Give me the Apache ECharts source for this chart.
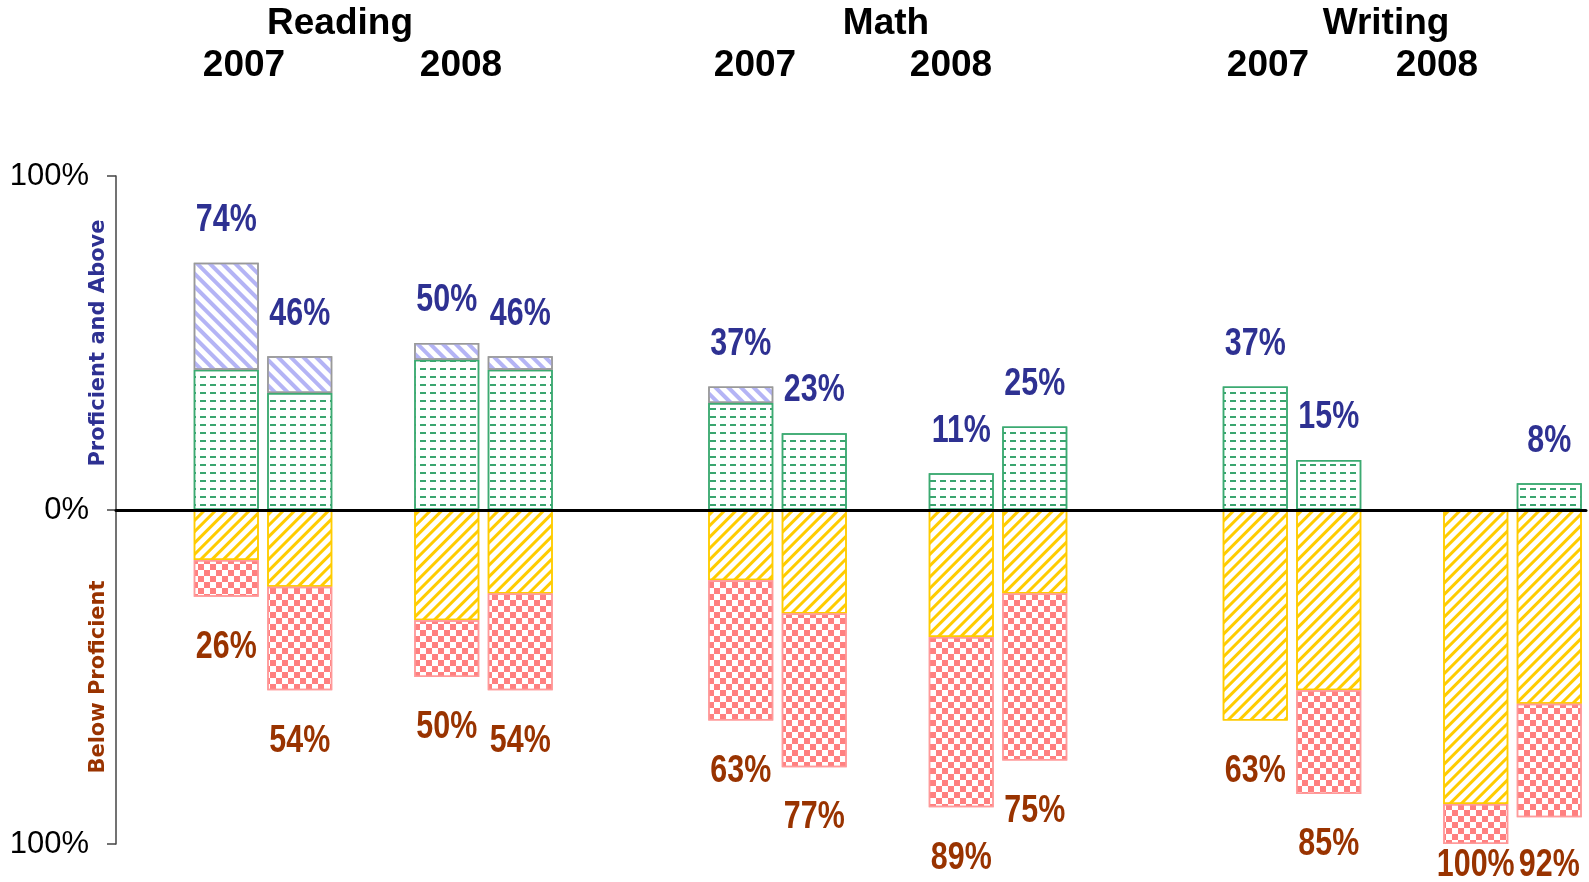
<!DOCTYPE html>
<html>
<head>
<meta charset="utf-8">
<script src="https://cdn.jsdelivr.net/npm/echarts@6/dist/echarts.min.js"></script>
<style>
  html, body { margin: 0; padding: 0; background: #fff; }
  #chart { width: 1589px; height: 882px; }
</style>
</head>
<body>
<div id="chart"></div>
<script>
// Subjects and test years shown across the top
const subjects = ['Reading', 'Math', 'Writing'];
const years = ['2007', '2008'];

// Percent of students per performance level, two bars for each subject/year (left to right)
const advanced   = [32, 11, 5, 4, 5, 0, 0, 0, 0, 0, 0, 0];
const proficient = [42, 35, 45, 42, 32, 23, 11, 25, 37, 15, 0, 8];
const basic      = [15, 23, 33, 25, 21, 31, 38, 25, 63, 54, 88, 58];
const belowBasic = [11, 31, 17, 29, 42, 46, 51, 50, 0, 31, 12, 34];

// Value axis ticks (drawn as absolute percentages)
const yTicks = [-100, 0, 100];

// Axis titles for the two halves of the chart
const upperTitle = 'Proficient and Above';
const lowerTitle = 'Below Proficient';

const BLUE = '#2e3192';
const BROWN = '#993300';
const LABEL_FONT = "bold 39px 'Liberation Sans', Arial, sans-serif";

// Totals printed above / below each bar
const upperTotals = advanced.map((v, i) => v + proficient[i]);
const lowerTotals = basic.map((v, i) => v + belowBasic[i]);

// Category slots: one leading blank, 2 bars per year, a blank between years, two between subjects
const SLOTS = 20;
function slotOf(i) {
  const s = Math.floor(i / 4), y = Math.floor(i / 2) % 2, b = i % 2;
  return 1 + s * 7 + y * 3 + b;
}
const slotNames = Array.from({ length: SLOTS }, (_, k) => 'slot' + k);

function toSlots(values, sign) {
  const out = new Array(SLOTS).fill('-');
  values.forEach((v, i) => {
    out[slotOf(i)] = v === 0
      ? { value: 0, itemStyle: { borderColor: 'rgba(0,0,0,0)' } }
      : sign * v;
  });
  return out;
}

function barSeries(name, values, sign, border, decal) {
  return {
    name, type: 'bar', stack: 'levels',
    barWidth: 65,
    data: toSlots(values, sign),
    itemStyle: { color: '#ffffff', borderColor: border, borderWidth: 1.5, decal },
    emphasis: { disabled: true }
  };
}

// Percentage labels drawn through the axes, slightly condensed
function labelSeries(totals, sign, color) {
  return {
    type: 'custom', z: 5, silent: true,
    data: totals.map((t, i) => [slotOf(i), sign * t]),
    renderItem: (params, api) => {
      const t = totals[params.dataIndex];
      if (!t) return null;
      const p = api.coord([api.value(0), api.value(1)]);
      const y = sign > 0 ? p[1] - 42.5 : Math.min(p[1] + 50.5, api.getHeight() - 17);
      return {
        type: 'text', x: p[0], y, scaleX: 0.78,
        style: { text: t + '%', x: 0, y: 0, font: LABEL_FONT, fill: color, textAlign: 'center', textVerticalAlign: 'middle' }
      };
    }
  };
}

const chart = echarts.init(document.getElementById('chart'), null, { renderer: 'canvas' });

const option = {
  animation: false,
  backgroundColor: '#ffffff',
  grid: { left: 116, right: 3, top: 176, bottom: 38, outerBoundsMode: 'none' },
  xAxis: {
    type: 'category', data: slotNames, z: 10,
    axisLine: { show: true, onZero: true, lineStyle: { color: '#000', width: 3 } },
    axisTick: { show: false }, axisLabel: { show: false }, splitLine: { show: false }
  },
  yAxis: {
    type: 'value', min: yTicks[0], max: yTicks[yTicks.length - 1], interval: 100,
    axisLine: { show: true, onZero: false, lineStyle: { color: '#444', width: 1.5 } },
    axisTick: { show: true, length: 9, lineStyle: { color: '#444', width: 1.5 } },
    splitLine: { show: false },
    axisLabel: {
      formatter: v => Math.abs(v) + '%', margin: 27, padding: [9, 0, 0, 0],
      fontFamily: "'Liberation Sans', Arial, sans-serif", fontSize: 31, color: '#000'
    }
  },
  series: [
    barSeries('Basic', basic, -1, '#ffcc00',
      { symbol: 'rect', symbolSize: 1, dashArrayX: [1, 0], dashArrayY: [3, 5], rotation: -Math.PI / 4, color: '#ffcc00' }),
    barSeries('Below Basic', belowBasic, -1, '#ff9a9a',
      { symbol: 'rect', symbolSize: 1, dashArrayX: [[6, 6], [0, 6, 6, 0]], dashArrayY: [6, 0], color: '#ff8080' }),
    barSeries('Proficient', proficient, 1, '#3caa72',
      { symbol: 'rect', symbolSize: 1, dashArrayX: [6, 4], dashArrayY: [2, 6], rotation: 0, color: '#3aa56f' }),
    barSeries('Advanced', advanced, 1, '#999999',
      { symbol: 'rect', symbolSize: 1, dashArrayX: [1, 0], dashArrayY: [3.5, 5], rotation: Math.PI / 4, color: '#b4b4f5' }),
    labelSeries(upperTotals, 1, BLUE),
    labelSeries(lowerTotals, -1, BROWN)
  ]
};

chart.setOption(option);

// Headings and side titles
const headFont = "bold 37px 'Liberation Sans', Arial, sans-serif";
const subjectX = [340, 886, 1386];
const yearX = [[244, 461], [755, 951], [1268, 1437]];
const texts = [];
subjects.forEach((s, si) => {
  texts.push({ type: 'text', style: { text: s, x: subjectX[si], y: 24, font: headFont, fill: '#000', textAlign: 'center', textVerticalAlign: 'middle' } });
  years.forEach((yr, yi) => {
    texts.push({ type: 'text', style: { text: yr, x: yearX[si][yi], y: 66, font: headFont, fill: '#000', textAlign: 'center', textVerticalAlign: 'middle' } });
  });
});
const sideFont = "bold 21px 'DejaVu Sans', sans-serif";
const yUp = chart.convertToPixel({ yAxisIndex: 0 }, 50);
const yDown = chart.convertToPixel({ yAxisIndex: 0 }, -50);
texts.push({ type: 'text', x: 99, y: yUp, rotation: Math.PI / 2,
  style: { text: upperTitle, x: 0, y: 0, font: sideFont, fill: BLUE, textAlign: 'center', textVerticalAlign: 'middle' } });
texts.push({ type: 'text', x: 99, y: yDown, rotation: Math.PI / 2,
  style: { text: lowerTitle, x: 0, y: 0, font: sideFont, fill: BROWN, textAlign: 'center', textVerticalAlign: 'middle' } });
chart.setOption({ graphic: { elements: texts } });
</script>
</body>
</html>
